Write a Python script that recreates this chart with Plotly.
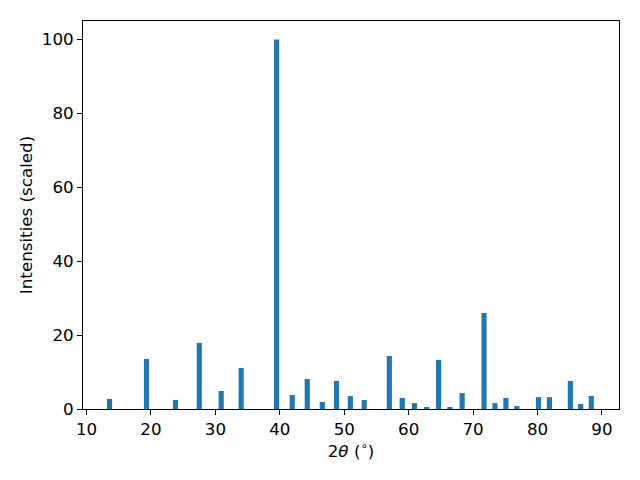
import plotly.graph_objects as go

two_theta = [13.57, 19.3, 23.8, 27.5, 30.9, 34.0, 39.5, 41.93, 44.26, 46.6, 48.8, 50.95,
             53.1, 57.0, 59.0, 60.9, 62.8, 64.65, 66.4, 68.3, 71.7, 73.4, 75.1, 76.8,
             80.15, 81.85, 85.1, 86.7, 88.35]
intensities = [2.7, 13.55, 2.44, 17.9, 4.88, 11.1, 100, 3.8, 8.13, 1.9, 7.6, 3.5,
               2.44, 14.36, 3.0, 1.6, 0.3, 13.3, 0.54, 4.3, 26.0, 1.6, 3.0, 0.8,
               3.2, 3.2, 7.6, 1.35, 3.5]

x_ticks = [10, 20, 30, 40, 50, 60, 70, 80, 90]
y_ticks = [0, 20, 40, 60, 80, 100]

fig = go.Figure(go.Bar(x=two_theta, y=intensities, width=0.8,
                       marker=dict(color="#1f77b4", line=dict(width=0))))

axis_common = dict(showline=True, linecolor="black", linewidth=1, mirror=True,
                   ticks="outside", ticklen=5, tickwidth=1, tickcolor="black",
                   showgrid=False, zeroline=False,
                   tickfont=dict(family="DejaVu Sans", size=16.7, color="black"))

fig.update_layout(
    width=640, height=480,
    margin=dict(l=75, r=29, t=13, b=79),
    paper_bgcolor="white", plot_bgcolor="white",
    showlegend=False,
    font=dict(family="DejaVu Sans", size=16.7, color="black"),
    xaxis=dict(range=[9.45, 92.65], tickvals=x_ticks,
               title=dict(text="2<i>θ</i> (<sup>∘</sup>)", standoff=6,
                          font=dict(family="DejaVu Sans", size=16.7)),
               **axis_common),
    yaxis=dict(range=[0, 105], tickvals=y_ticks,
               title=dict(text="Intensities (scaled)", standoff=4,
                          font=dict(family="DejaVu Sans", size=16.7)),
               **axis_common),
)

fig.write_html("out.html")
